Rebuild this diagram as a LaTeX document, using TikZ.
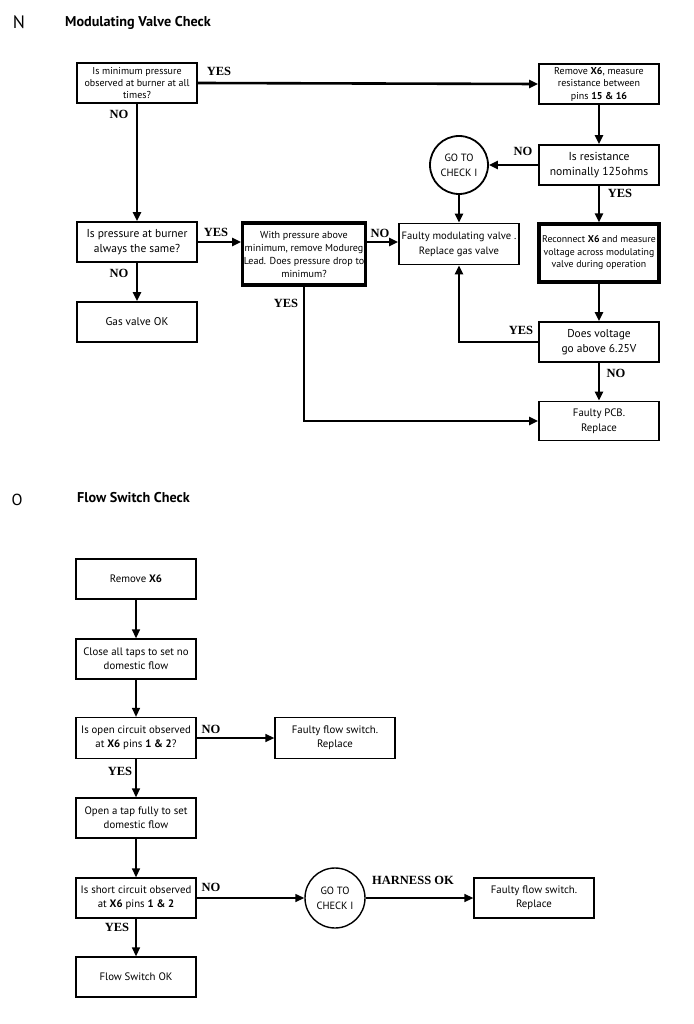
\documentclass[tikz,border=0pt]{standalone}
\usepackage{fontspec}
\setsansfont{PT Sans}
\newfontfamily\lblfont{Liberation Serif}
\usetikzlibrary{positioning, arrows.meta, calc}
\newcommand{\fs}[2]{\fontsize{#1}{#2}\selectfont}
\tikzset{
  box/.style={draw, rectangle, line width=1.8pt, minimum width=120pt, minimum height=40pt, inner sep=1pt, align=center, font=\sffamily\fs{10.5}{13}},
  thickbox/.style={box, line width=3.2pt},
  fbox/.style={box, line width=1.3pt, font=\sffamily\fs{10.8}{14}},
  goto/.style={draw, circle, line width=1.8pt, minimum size=58pt, inner sep=0pt, align=center, font=\sffamily\fs{10.5}{15}},
  lbl/.style={font=\lblfont\bfseries\fs{12.5}{12}, inner sep=0pt},
  head/.style={font=\sffamily\bfseries\fs{14.2}{16}, anchor=west, inner sep=0pt},
  flow/.style={line width=2.6pt, -{Triangle[length=9pt,width=8pt]}},
  fflow/.style={line width=1.4pt, -{Triangle[length=9pt,width=8pt]}}
}
\begin{document}
\begin{tikzpicture}[x=1pt, y=-1pt]
  \useasboundingbox (0,0) rectangle (693,1024);

  % section N
  \node[font=\sffamily\fs{18}{18}, inner sep=0pt] (secN) at (19, 22) {N};
  \node[head] (titleN) at (65, 23) {Modulating Valve Check};

  \node[box, font=\sffamily\fs{10}{12}] (B1) at (137, 83) {Is minimum pressure\\ observed at burner at all\\ times?};
  \node[box, font=\sffamily\fs{10}{12.5}] (B2) at (599, 84) {Remove \textbf{X6}, measure\\ resistance between\\ pins \textbf{15 \& 16}};
  \node[box, font=\sffamily\fs{11.6}{15}] (B3) at (599, 165) {Is resistance\\ nominally 125ohms};
  \node[goto] (C1) at (459, 165) {GO TO\\ CHECK I};
  \node[box, font=\sffamily\fs{11.5}{15}] (B9) at (137, 242) {Is pressure at burner\\ always the same?};
  \node[thickbox, minimum height=62pt, minimum width=122pt, font=\sffamily\fs{10.1}{13}] (B8) at (304, 254) {With pressure above\\ minimum, remove Modureg\\ Lead. Does pressure drop to\\ minimum?};
  \node[box, minimum height=41pt, font=\sffamily\fs{10.6}{15}] (B5) at (459, 244) {Faulty modulating valve .\\ Replace gas valve};
  \node[thickbox, minimum height=58pt, font=\sffamily\fs{9.8}{12.5}] (B4) at (599, 253) {Reconnect \textbf{X6} and measure\\ voltage across modulating\\ valve during operation};
  \node[box, font=\sffamily\fs{11.4}{15}] (B6) at (599, 342) {Does voltage\\ go above 6.25V};
  \node[box, minimum height=39pt, font=\sffamily\fs{10.8}{15}] (B7) at (599, 421) {Faulty PCB.\\ Replace};
  \node[box, font=\sffamily\fs{11.2}{15}] (B10) at (137, 322) {Gas valve OK};

  \draw[flow] (B1.east) -- (B2.west);
  \draw[flow] (B1) -- (B9);
  \draw[flow] (B2) -- (B3);
  \draw[flow] (B3) -- (C1);
  \draw[flow] (B3) -- (B4);
  \draw[flow] (C1) -- (B5);
  \draw[flow] (B9.east) -- (B9.east -| B8.west);
  \draw[flow] (B9.east -| B8.east) -- (B9.east -| B5.west);
  \draw[flow] (B9) -- (B10);
  \draw[flow] (B4) -- (B6);
  \draw[flow] (B6.west) -| (B5.south);
  \draw[flow] (B6) -- (B7);
  \draw[flow] (B8.south) |- (B7.west);

  \node[lbl] (yes1) at (219, 71) {YES};
  \node[lbl] (no1) at (119, 114) {NO};
  \node[lbl] (no2) at (523, 151) {NO};
  \node[lbl] (yes2) at (620, 193) {YES};
  \node[lbl] (yes3) at (216, 232) {YES};
  \node[lbl] (no3) at (380, 233) {NO};
  \node[lbl] (yes4) at (286, 303) {YES};
  \node[lbl] (no4) at (119, 273) {NO};
  \node[lbl] (yes5) at (521, 330) {YES};
  \node[lbl] (no5) at (616, 373) {NO};

  % section O
  \node[font=\sffamily\fs{16}{16}, inner sep=0pt] (secO) at (17, 500) {O};
  \node[head] (titleO) at (77, 498) {Flow Switch Check};

  \node[fbox] (F1) at (136, 579) {Remove \textbf{X6}};
  \node[fbox] (F2) at (136, 659) {Close all taps to set no\\ domestic flow};
  \node[fbox, minimum height=41pt] (F3) at (136, 738) {Is open circuit observed\\ at \textbf{X6} pins \textbf{1 \& 2}?};
  \node[fbox, minimum height=41pt] (F4) at (335, 738) {Faulty flow switch.\\ Replace};
  \node[fbox] (F5) at (136, 818) {Open a tap fully to set\\ domestic flow};
  \node[fbox] (F6) at (136, 898) {Is short circuit observed\\ at \textbf{X6} pins \textbf{1 \& 2}};
  \node[goto, line width=1.4pt, minimum size=60pt] (C2) at (335, 898) {GO TO\\ CHECK I};
  \node[fbox] (F7) at (534, 898) {Faulty flow switch.\\ Replace};
  \node[fbox] (F8) at (136, 977) {Flow Switch OK};

  \draw[fflow] (F1) -- (F2);
  \draw[fflow] (F2) -- (F3);
  \draw[fflow] (F3) -- (F4);
  \draw[fflow] (F3) -- (F5);
  \draw[fflow] (F5) -- (F6);
  \draw[fflow] (F6) -- (C2);
  \draw[fflow] (C2) -- (F7);
  \draw[fflow] (F6) -- (F8);

  \node[lbl] (no6) at (211, 729) {NO};
  \node[lbl] (yes6) at (120, 771) {YES};
  \node[lbl] (no7) at (211, 887) {NO};
  \node[lbl] (harness) at (413, 880) {HARNESS OK};
  \node[lbl] (yes7) at (117, 927) {YES};
\end{tikzpicture}
\end{document}
